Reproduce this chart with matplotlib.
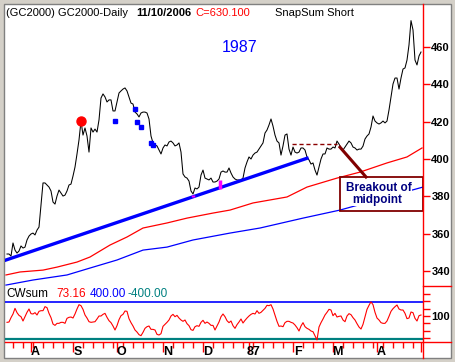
import numpy as np
import pandas as pd
import matplotlib
matplotlib.use('Agg')
import matplotlib.pyplot as plt
import matplotlib.transforms as mtransforms
from matplotlib.patches import Rectangle
from matplotlib.lines import Line2D

plt.rcParams['font.family'] = ['Liberation Sans', 'DejaVu Sans']

W, H = 455, 362

# daily closes, GC2000 (Jul 1986 - Apr 1987)
close = [
    349.2, 349.2, 348.1, 355.1, 351.3, 349.7, 350.8, 353.5, 352.4, 352.9,
    356.7, 358.8, 359.9, 360.4, 359.4, 362.0, 363.6, 375.4, 387.2, 387.2,
    386.1, 385.0, 382.9, 377.0, 375.9, 380.2, 383.4, 381.8, 380.2, 380.7,
    382.9, 386.1, 386.6, 390.9, 395.7, 402.7, 410.2, 420.3, 412.8, 416.6,
    412.3, 403.7, 416.6, 414.4, 416.0, 414.4, 420.9, 432.6, 434.8, 433.2,
    430.5, 431.6, 431.6, 425.7, 425.7, 430.5, 435.3, 436.4, 437.4, 438.0,
    436.4, 433.2, 429.9, 429.4, 425.1, 424.1, 422.5, 424.6, 425.1, 425.1,
    424.6, 421.4, 412.3, 408.6, 407.5, 407.0, 404.8, 402.7, 405.9, 407.5,
    407.0, 409.1, 409.6, 408.6, 407.0, 407.5, 408.6, 403.7, 392.0, 390.4,
    389.8, 388.2, 382.9, 381.3, 384.5, 384.0, 385.0, 391.4, 394.1, 389.8,
    389.3, 388.8, 389.8, 387.7, 387.7, 388.2, 389.3, 393.0, 393.6, 393.0,
    393.0, 395.2, 392.5, 390.4, 389.3, 388.8, 388.8, 388.8, 389.8, 395.2,
    398.4, 401.1, 400.0, 402.1, 403.2, 403.7, 405.3, 407.0, 408.6, 413.9,
    415.5, 418.2, 421.4, 417.6, 412.8, 409.6, 408.6, 402.1, 407.0, 412.8,
    413.4, 405.3, 402.1, 406.4, 403.7, 403.2, 403.7, 405.9, 405.9, 404.8,
    401.1, 399.5, 397.3, 397.9, 394.1, 391.4, 395.7, 400.0, 402.7, 402.7,
    405.9, 405.3, 405.3, 406.4, 405.9, 409.6, 408.0, 405.9, 404.8, 406.4,
    408.0, 409.6, 408.6, 406.4, 405.9, 404.8, 405.3, 405.3, 406.9, 410.7,
    412.3, 413.4, 417.1, 423.0, 420.3, 419.3, 418.7, 419.3, 420.3, 419.3,
    420.3, 426.2, 433.2, 440.1, 443.3, 443.3, 437.4, 443.3, 448.1, 448.7,
    452.9, 461.0, 474.0, 469.0, 452.9, 450.3, 455.1, 457.2,
]

# CWsum oscillator
cwsum = [
    -37, -30, 65, 145, 268, 174, 115, 86, -8, 86,
    181, 254, 152, 145, 174, 123, 203, 217, 217, 305,
    283, 159, 65, -74, -103, -59, -59, -37, -37, -59,
    50, 72, 79, 57, 145, 254, 348, 326, 246, 123,
    57, -23, -37, -30, -23, 36, 101, 101, 137, 159,
    72, -1, -44, -117, -204, -110, 21, 108, 137, 210,
    203, 43, -44, -117, -204, -248, -306, -328, -255, -168,
    -132, -117, -190, -190, -204, -299, -313, -284, -124, -81,
    -37, 14, 101, 137, 86, 115, 57, 14, -15, 14,
    -66, -110, -197, -212, -132, -110, -124, -37, 7, -59,
    -30, -59, -103, -103, -204, -117, -30, 86, 145, 86,
    -1, -44, -8, -110, -168, -88, -30, 36, -52, 6,
    57, 101, 137, 159, 145, 217, 159, 181, 225, 268,
    334, 326, 348, 254, 123, -15, -124, -117, -132, -44,
    -15, -15, -37, -52, -95, -153, -226, -117, -44, -132,
    -168, -190, -226, -241, -330, -420, -139, -44, 36, 123,
    181, 246, 232, 108, 159, 79, 94, 101, 14, -23,
    101, 152, 130, 65, 14, -66, -139, -183, -81, 86,
    246, 334, 410, 348, 181, 57, 14, -44, -59, -59,
    -8, 94, 203, 261, 304, 341, 254, 232, 232, 159,
    43, 57, 188, 174, 50, -8, 108, 123,
]

# moving averages (read at intervals)
ma_red_days = [-0.5, 6.5, 18, 25, 35, 41.5, 51.5, 60, 68, 80, 90, 103, 111.5,
               123, 140, 150, 165, 176.5, 190, 200, 207.5]
ma_red = [338.0, 339.6, 340.6, 342.2, 344.9, 347.6, 354.0, 358.3, 363.1, 365.8,
          368.4, 371.1, 372.7, 376.5, 379.7, 385.0, 389.8, 393.0, 397.9, 401.1, 405.9]
ma_blue_days = [-0.5, 13, 30, 41.5, 55, 68, 80, 93, 111.5, 126.5, 148, 166.5, 208]
ma_blue = [332.6, 335.3, 338.0, 341.7, 346.0, 351.3, 352.9, 356.7, 360.4,
           363.1, 368.4, 372.7, 385.0]

trend_days = [-0.5, 150]
trend_prices = [346.0, 400.4]

signal_days = [54, 64, 65, 67, 72, 73]
signal_prices = [420.5, 426.7, 419.9, 417.3, 408.4, 407.5]
peak_day, peak_price = 37, 420.3
pink_days = [93, 106.5]
pink_lo = [379.7, 384.0]
pink_hi = [380.9, 388.8]

mid_level = 408.0
mid_days = [142.4, 165]
arrow_days = [166.5, 179.5]
arrow_prices = [406.3, 390.4]
box_days = [166.5, 208]
box_prices = [372.4, 390.2]

price_ticks = [340, 360, 380, 400, 420, 440, 460]
cw_minor = [-380, -220, -60, 260, 420, 580]
month_labels = ['A', 'S', 'O', 'N', 'D', '87', 'F', 'M', 'A']

dates = pd.bdate_range('1986-07-16', periods=len(close))
x = np.arange(len(close))
month_starts = [i for i in range(1, len(dates)) if dates[i].month != dates[i - 1].month]
weekly = [i for i in range(len(dates)) if dates[i].dayofweek == 0 and i not in month_starts]


def fx(px):
    return px / W


def fy(py):
    return 1 - py / H


fig = plt.figure(figsize=(W / 100, H / 100), dpi=100, facecolor='#d4d0c8')
fig.add_artist(Rectangle((fx(4), fy(358)), fx(451) - fx(4), fy(4) - fy(358),
                         transform=fig.transFigure, facecolor='white',
                         edgecolor='#808080', lw=1, zorder=0))

ax1 = fig.add_axes([fx(5), fy(286), (423 - 5) / W, (286 - 5) / H])
ax2 = fig.add_axes([fx(5), fy(341.7), (423 - 5) / W, (341.7 - 286) / H])
for ax in (ax1, ax2):
    ax.set_facecolor('none')
    for s in ax.spines.values():
        s.set_visible(False)
    ax.set_xlim(-1, 208)

# price panel
ax1.set_ylim(332.1, 482.35)
ax1.plot(x, close, color='black', lw=0.75, zorder=3)
ax1.plot(ma_red_days, ma_red, color='#ff0000', lw=0.9, zorder=2)
ax1.plot(ma_blue_days, ma_blue, color='#0000ff', lw=0.9, zorder=2)
ax1.plot(trend_days, trend_prices, color='#0000ff', lw=2.4, zorder=4)
ax1.plot(signal_days, signal_prices, 's', color='#0000ff', ms=3, zorder=5)
ax1.plot([peak_day], [peak_price], 'o', color='#ff0000', ms=6.5, zorder=5)
ax1.vlines(pink_days, pink_lo, pink_hi, color='#ff00ff', lw=2.5, zorder=5)
ax1.plot(mid_days, [mid_level, mid_level], color='#8b0000', lw=1, ls=(0, (3, 2)), zorder=4)
ax1.plot(arrow_days, arrow_prices, color='#800000', lw=2.2, zorder=6)
ax1.add_patch(Rectangle((box_days[0], box_prices[0]), box_days[1] - box_days[0],
                        box_prices[1] - box_prices[0], facecolor='none',
                        edgecolor='#800000', lw=1.3, zorder=6))
txt_bg = dict(facecolor='white', edgecolor='none', pad=0.3)
ax1.text(186, 384.3, 'Breakout of', color='#000080', fontsize=8.5, fontweight='bold',
         ha='center', va='center', bbox=txt_bg, zorder=7)
ax1.text(185, 378.1, 'midpoint', color='#000080', fontsize=8.5, fontweight='bold',
         ha='center', va='center', bbox=txt_bg, zorder=7)
ax1.text(116.5, 459.4, '1987', color='#0000ff', fontsize=11.5, ha='center', va='center')

ax1.set_xticks([])
ax1.yaxis.tick_right()
ax1.set_yticks(price_ticks)
ax1.tick_params(axis='y', color='red', labelcolor='black', length=5, width=1,
                pad=1, labelsize=8)
for lbl in ax1.get_yticklabels():
    lbl.set_fontweight('bold')

# oscillator panel
ax2.set_ylim(-459, 755)
ax2.plot(x, cwsum, color='#ff0000', lw=0.8, zorder=3)
ax2.axhline(400, color='#0000ff', lw=1.2, zorder=2)
ax2.axhline(-400, color='#008080', lw=1.6, zorder=2)
ax2.yaxis.tick_right()
ax2.set_yticks([100])
ax2.set_yticks(cw_minor, minor=True)
ax2.tick_params(axis='y', which='both', color='red', labelcolor='black', length=5,
                width=1, pad=1, labelsize=8)
for lbl in ax2.get_yticklabels():
    lbl.set_fontweight('bold')
ax2.set_xticks(month_starts)
ax2.set_xticks(weekly, minor=True)
ax2.tick_params(axis='x', which='major', color='red', length=7, width=1, labelbottom=False)
ax2.tick_params(axis='x', which='minor', color='red', length=4, width=1)

trans = mtransforms.blended_transform_factory(ax2.transData, fig.transFigure)
for m, lab in zip(month_starts, month_labels):
    ax2.text(m + 2.3, fy(352), lab, transform=trans, fontsize=9, fontweight='bold',
             ha='center', va='center', clip_on=False)

# axis lines
fig.add_artist(Line2D([fx(423), fx(423)], [fy(4), fy(358)], color='red', lw=1))
fig.add_artist(Line2D([fx(5), fx(451)], [fy(341.7), fy(341.7)], color='red', lw=1))
fig.add_artist(Line2D([fx(423), fx(451)], [fy(286), fy(286)], color='red', lw=1))

# header texts
fig.text(fx(6), fy(13), '(GC2000) GC2000-Daily', fontsize=8, va='center')
fig.text(fx(136), fy(13), '11/10/2006', fontsize=8, fontweight='bold', va='center')
fig.text(fx(195), fy(13), 'C=630.100', fontsize=8, color='#ff0000', va='center')
fig.text(fx(275), fy(13), 'SnapSum Short', fontsize=8, va='center')

fig.text(fx(6), fy(294), 'CWsum', fontsize=8.5, va='center')
fig.text(fx(56), fy(294), '73.16', fontsize=8.5, color='#ff0000', va='center')
fig.text(fx(90), fy(294), '400.00', fontsize=8.5, color='#0000ff', va='center')
fig.text(fx(128), fy(294), '-400.00', fontsize=8.5, color='#008080', va='center')

fig.savefig('out.png', dpi=100, facecolor=fig.get_facecolor())
